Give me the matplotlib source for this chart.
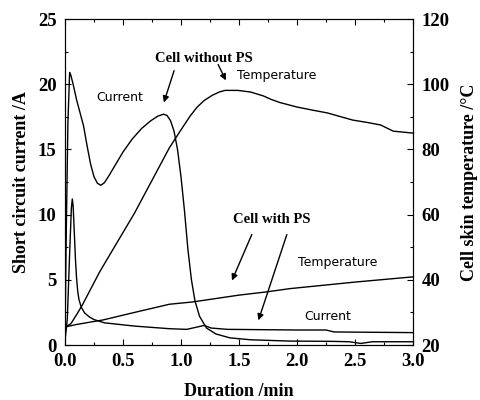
import matplotlib
matplotlib.use("Agg")
import matplotlib.pyplot as plt
from matplotlib.ticker import MultipleLocator

# ------------------------------
# Data
# ------------------------------
# cell without PS: short circuit current (A)
t_cur_nops = [0.0, 0.01, 0.025, 0.04, 0.05, 0.07, 0.10, 0.13, 0.16, 0.19, 0.22, 0.25,
              0.28, 0.31, 0.34, 0.38, 0.44, 0.50, 0.58, 0.66, 0.74, 0.80, 0.85, 0.88,
              0.91, 0.94, 0.97, 1.00, 1.03, 1.06, 1.09, 1.12, 1.16, 1.22, 1.30, 1.42,
              1.60, 1.94, 2.30, 2.45, 2.55, 2.65, 3.00]
i_cur_nops = [0.5, 8.0, 17.0, 20.9, 20.7, 20.0, 18.8, 17.8, 16.8, 15.3, 13.9, 12.9,
              12.4, 12.25, 12.45, 13.0, 13.9, 14.8, 15.8, 16.6, 17.2, 17.55, 17.7, 17.6,
              17.2, 16.4, 15.0, 12.9, 10.3, 7.3, 5.0, 3.4, 2.2, 1.3, 0.85, 0.55,
              0.4, 0.3, 0.28, 0.25, 0.12, 0.25, 0.25]

# cell with PS: short circuit current (A)
t_cur_ps = [0.0, 0.02, 0.04, 0.055, 0.063, 0.07, 0.08, 0.09, 0.10, 0.11, 0.12, 0.14,
            0.17, 0.21, 0.25, 0.34, 0.60, 0.90, 1.05, 1.15, 1.20, 1.26, 1.40, 2.00,
            2.25, 2.32, 3.00]
i_cur_ps = [0.3, 2.0, 7.0, 10.5, 11.2, 10.7, 8.7, 6.6, 5.1, 4.1, 3.5, 2.9,
            2.45, 2.15, 1.95, 1.7, 1.45, 1.25, 1.2, 1.4, 1.5, 1.3, 1.2, 1.15,
            1.15, 1.0, 0.95]

# cell without PS: skin temperature (degC)
t_tmp_nops = [0.0, 0.05, 0.10, 0.15, 0.30, 0.45, 0.60, 0.75, 0.90, 1.00, 1.08, 1.14,
              1.20, 1.27, 1.33, 1.38, 1.49, 1.60, 1.71, 1.78, 1.85, 2.00, 2.14, 2.26,
              2.40, 2.48, 2.60, 2.72, 2.83, 3.00]
T_tmp_nops = [25.5, 26.5, 29.3, 32.3, 42.5, 51.5, 60.5, 70.5, 80.5, 86.0, 90.3, 93.0,
              95.0, 96.6, 97.6, 98.1, 98.1, 97.6, 96.4, 95.3, 94.4, 93.0, 92.0, 91.2,
              89.8, 89.0, 88.3, 87.5, 85.6, 85.0]

# cell with PS: skin temperature (degC)
t_tmp_ps = [0.0, 0.10, 0.33, 0.60, 0.90, 1.10, 1.50, 1.74, 1.94, 2.50, 3.00]
T_tmp_ps = [25.5, 26.3, 27.7, 30.0, 32.5, 33.2, 35.3, 36.3, 37.3, 39.3, 40.9]

serif = "Liberation Serif"
sans = "DejaVu Sans"

fig = plt.figure(figsize=(4.8, 4.0), dpi=100)
ax = fig.add_axes([0.1354, 0.1375, 0.725, 0.815])
ax2 = ax.twinx()

ax.plot(t_cur_nops, i_cur_nops, color="black", lw=1.0)
ax.plot(t_cur_ps, i_cur_ps, color="black", lw=1.0)
ax2.plot(t_tmp_nops, T_tmp_nops, color="black", lw=1.0)
ax2.plot(t_tmp_ps, T_tmp_ps, color="black", lw=1.0)

ax.set_xlim(0, 3.0)
ax.set_ylim(0, 25)
ax2.set_ylim(20, 120)

ax.xaxis.set_major_locator(MultipleLocator(0.5))
ax.xaxis.set_minor_locator(MultipleLocator(0.25))
ax.yaxis.set_major_locator(MultipleLocator(5))
ax.yaxis.set_minor_locator(MultipleLocator(2.5))
ax2.yaxis.set_major_locator(MultipleLocator(20))
ax2.yaxis.set_minor_locator(MultipleLocator(10))

ax.tick_params(axis="x", which="both", direction="in", top=True)
ax.tick_params(axis="y", which="both", direction="in")
ax2.tick_params(axis="y", which="both", direction="in")
for a in (ax, ax2):
    a.tick_params(which="major", length=4, width=0.8, pad=6)
    a.tick_params(which="minor", length=2, width=0.8)
    for lab in a.get_xticklabels() + a.get_yticklabels():
        lab.set_fontfamily(serif)
        lab.set_fontweight("bold")
        lab.set_fontsize(13.5)

ax.set_xticklabels([f"{v:.1f}" for v in ax.get_xticks()])

ax.set_xlabel("Duration /min", family=serif, weight="bold", fontsize=13, labelpad=9)
ax.set_ylabel("Short circuit current /A", family=serif, weight="bold", fontsize=13, labelpad=6)
ax2.set_ylabel("Cell skin temperature /\u00b0C", family=serif, weight="bold", fontsize=13, labelpad=8)

# annotations
ax.text(1.198, 22.0, "Cell without PS", family=serif, weight="bold", fontsize=10.5,
        ha="center", va="center")
ax.text(0.474, 19.0, "Current", family=sans, fontsize=9, ha="center", va="center")
ax.text(1.828, 20.7, "Temperature", family=sans, fontsize=9, ha="center", va="center")
ax.text(1.784, 9.59, "Cell with PS", family=serif, weight="bold", fontsize=10.5,
        ha="center", va="center")
ax.text(2.353, 6.29, "Temperature", family=sans, fontsize=9, ha="center", va="center")
ax.text(2.267, 2.15, "Current", family=sans, fontsize=9, ha="center", va="center")

arrow = dict(arrowstyle="-|>", color="black", lw=1.0, mutation_scale=9)
ax.annotate("", xy=(0.845, 18.4), xytext=(0.948, 21.24), arrowprops=arrow)
ax.annotate("", xy=(1.397, 20.1), xytext=(1.31, 21.7), arrowprops=arrow)
ax.annotate("", xy=(1.43, 4.75), xytext=(1.62, 8.67), arrowprops=arrow)
ax.annotate("", xy=(1.66, 1.69), xytext=(1.92, 8.67), arrowprops=arrow)

fig.savefig("out.png", dpi=100)
